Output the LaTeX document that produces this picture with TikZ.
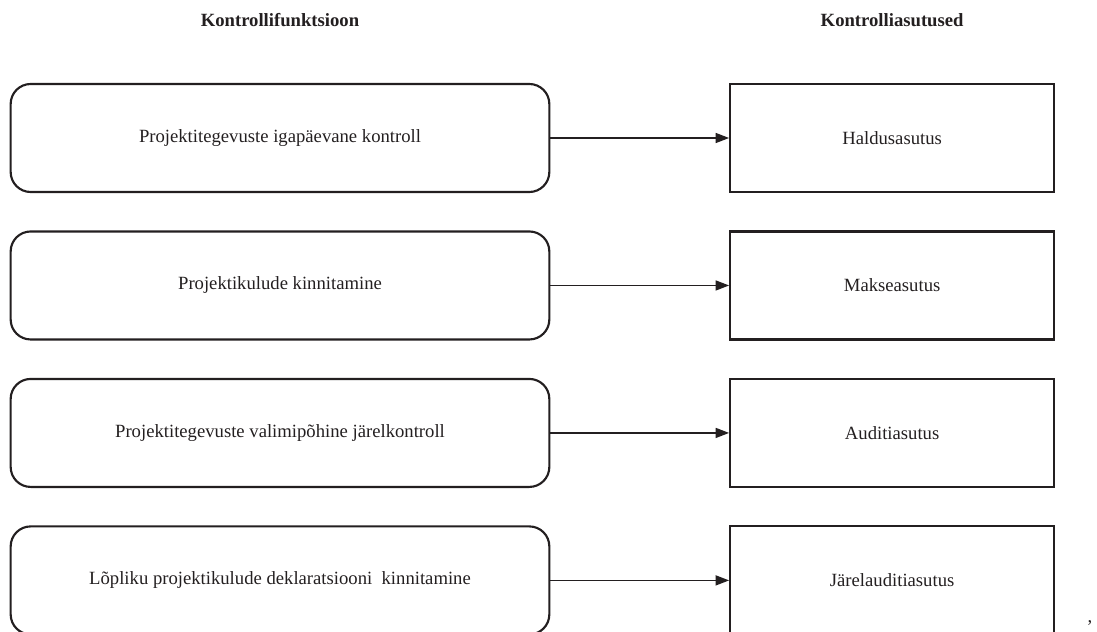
\documentclass[tikz,border=0pt]{standalone}
\usepackage{fontspec}
\setmainfont{Liberation Serif}
\usepackage{tikz}
\usetikzlibrary{arrows.meta, positioning}
\definecolor{inkgray}{HTML}{231F20}

\begin{document}
\begin{tikzpicture}[
        every node/.style={font=\fontsize{14}{16}\selectfont, text=inkgray},
        funcbox/.style={draw=inkgray, rounded corners=15pt, line width=1.6pt, minimum width=404pt, minimum height=81pt, text centered},
        unitbox/.style={draw=inkgray, line width=1.6pt, minimum width=243pt, minimum height=81pt, text centered},
        header/.style={font=\fontsize{14}{16}\selectfont\bfseries},
        arrow/.style={draw=inkgray, line width=0.9pt,->,>={Stealth[length=10pt,width=7.5pt,inset=0pt]}}
      ]
        \useasboundingbox (0,0) rectangle (822.75pt,-474pt);

        % Kontrollifunktsioon
        \node (func1) [funcbox] at (210pt,-103.5pt) {Projektitegevuste igapäevane kontroll};
        \node (func2) [funcbox, below=28pt of func1] {Projektikulude kinnitamine};
        \node (func3) [funcbox, below=28pt of func2] {Projektitegevuste valimipõhine järelkontroll};
        \node (func4) [funcbox, below=28pt of func3] {Lõpliku projektikulude deklaratsiooni\ \ kinnitamine};

        % Kontrolliasutused
        \node (unit1) [unitbox, right=134pt of func1] {Haldusasutus};
        \node (unit2) [unitbox, right=134pt of func2] {Makseasutus};
        \node (unit3) [unitbox, right=134pt of func3] {Auditiasutus};
        \node (unit4) [unitbox, right=134pt of func4] {Järelauditiasutus};

        % Arrows
        \draw [arrow] (func1.east) -- (unit1.west);
        \draw [arrow] (func2.east) -- (unit2.west);
        \draw [arrow] (func3.east) -- (unit3.west);
        \draw [arrow] (func4.east) -- (unit4.west);

        % Labels
        \node (head_func) [header] at (func1.north |- 0,-15pt) {Kontrollifunktsioon};
        \node (head_unit) [header] at (unit1.north |- 0,-15pt) {Kontrolliasutused};
        \node (comma) at (817.5pt,-467pt) {,};
      \end{tikzpicture}
\end{document}
